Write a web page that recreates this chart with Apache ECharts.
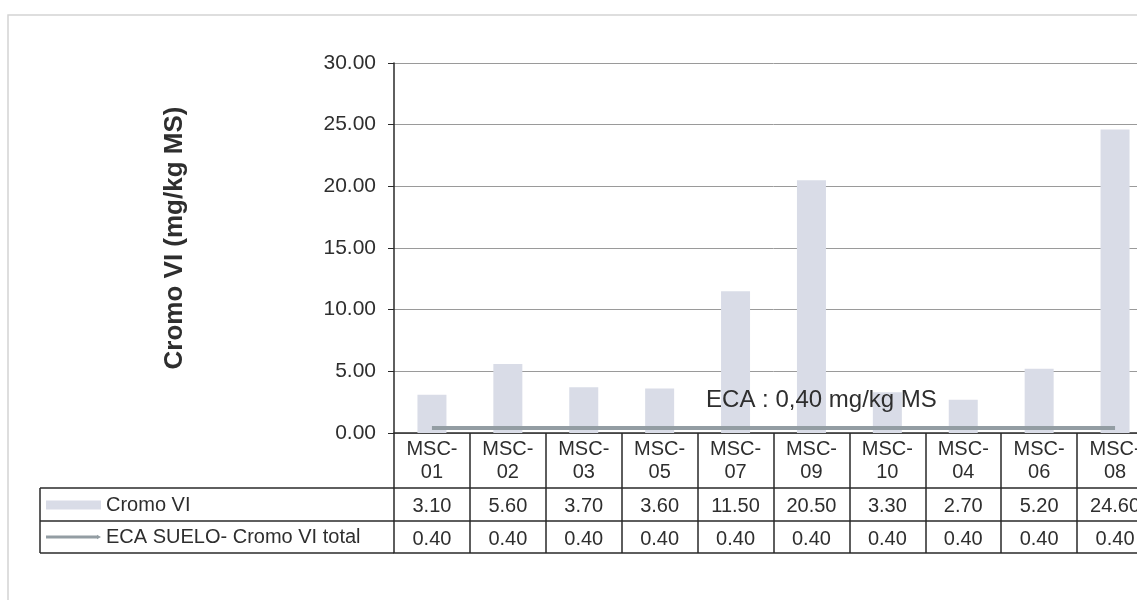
<!DOCTYPE html>
<html>
<head>
<meta charset="utf-8">
<script src="https://cdn.jsdelivr.net/npm/echarts@6/dist/echarts.min.js"></script>
<style>
  html, body { margin: 0; padding: 0; background: #fff; overflow: hidden; }
  /* the table runs past the right edge of the page, like the scan */
  #chart { width: 1170px; height: 611px; }
</style>
</head>
<body>
<div id="chart"></div>
<script>
// data
var categories = ['MSC-01', 'MSC-02', 'MSC-03', 'MSC-05', 'MSC-07', 'MSC-09', 'MSC-10', 'MSC-04', 'MSC-06', 'MSC-08'];
var cromoVI = [3.10, 5.60, 3.70, 3.60, 11.50, 20.50, 3.30, 2.70, 5.20, 24.60];
var ecaSuelo = [0.40, 0.40, 0.40, 0.40, 0.40, 0.40, 0.40, 0.40, 0.40, 0.40];
var yTicks = { min: 0, max: 30, interval: 5 };
var ecaLabelIndex = 5;

var FONT = '"Liberation Sans", Arial, sans-serif';
var TXT = '#2e2e2e';
var LINE = '#2a2a2a';
var ECA_COLOR = '#939da3';

// table geometry (grid + rows underneath)
var G = { left: 394, top: 63, width: 759, height: 370 };
var rowCat = 55, row1 = 33, row2 = 32;
var tableLeft = 40;

var chartDom = document.getElementById('chart');
var myChart = echarts.init(chartDom);

function tableAxis(offset, tickLen, formatter, margin) {
  return {
    type: 'category',
    data: categories,
    position: 'bottom',
    offset: offset,
    axisLine: { show: true, lineStyle: { color: LINE, width: 1.5 } },
    axisTick: { show: tickLen > 0, alignWithLabel: false, length: tickLen, lineStyle: { color: LINE, width: 1.5 } },
    axisLabel: {
      show: !!formatter,
      interval: 0,
      margin: margin || 0,
      formatter: formatter || '',
      fontFamily: FONT,
      fontSize: 20,
      color: TXT,
      lineHeight: 20
    },
    splitLine: { show: false }
  };
}

var bottom1 = G.top + G.height + rowCat;
var bottom2 = bottom1 + row1;
var bottom3 = bottom2 + row2;

var eca = ecaSuelo.map(function (v, i) {
  if (i !== ecaLabelIndex) return v;
  return {
    value: v,
    symbol: 'circle',
    symbolSize: 0,
    label: {
      show: true,
      position: 'top',
      distance: 16,
      offset: [10, 0],
      formatter: 'ECA : ' + v.toFixed(2).replace('.', ',') + ' mg/kg MS',
      fontFamily: FONT,
      fontSize: 24,
      color: TXT
    }
  };
});

var xCat = tableAxis(0, rowCat, function (v) { return v.replace('-', '-\n'); }, 5);
xCat.axisLabel.lineHeight = 23;

// thin bar across the middle of the 55x9 legend slot, small arrow tip at the end
var lineIcon = 'path://M0,0h0.01v0.01h-0.01z M0,3h52v3h-52z M51,2.2l4,2.3l-4,2.3z M54.99,8.99h0.01v0.01h-0.01z';

var options = {
  animation: false,
  backgroundColor: '#fff',
  textStyle: { fontFamily: FONT },
  grid: { left: G.left, top: G.top, width: G.width, height: G.height, containLabel: false },
  legend: {
    orient: 'vertical',
    left: 46,
    top: bottom1 + 6,
    padding: 0,
    itemGap: 10,
    itemWidth: 55,
    itemHeight: 9,
    symbolKeepAspect: false,
    textStyle: { fontFamily: FONT, fontSize: 20, color: TXT, lineHeight: 22 },
    data: [
      { name: 'Cromo VI', icon: 'rect' },
      {
        name: 'ECA SUELO- Cromo VI total',
        icon: lineIcon,
        itemStyle: { color: ECA_COLOR, borderWidth: 0 }
      }
    ]
  },
  xAxis: [
    xCat,
    tableAxis(rowCat, row1, function (v, i) { return cromoVI[i].toFixed(2); }, 8),
    tableAxis(rowCat + row1, row2, function (v, i) { return ecaSuelo[i].toFixed(2); }, 8),
    tableAxis(rowCat + row1 + row2, 0, null, 0)
  ],
  yAxis: {
    type: 'value',
    min: yTicks.min,
    max: yTicks.max,
    interval: yTicks.interval,
    name: 'Cromo VI (mg/kg MS)',
    nameLocation: 'middle',
    nameGap: 206,
    nameRotate: 90,
    nameTextStyle: { fontFamily: FONT, fontSize: 26, fontWeight: 'bold', color: TXT, padding: [0, 0, 0, 20] },
    axisLine: { show: true, lineStyle: { color: LINE, width: 1.5 } },
    axisTick: { show: true, length: 6, lineStyle: { color: LINE } },
    axisLabel: {
      margin: 18,
      fontFamily: FONT,
      fontSize: 21,
      color: TXT,
      formatter: function (v) { return v.toFixed(2); }
    },
    splitLine: { show: true, lineStyle: { color: '#9a9a9a', width: 1 } }
  },
  series: [
    {
      name: 'Cromo VI',
      type: 'bar',
      data: cromoVI,
      barWidth: 29,
      itemStyle: { color: '#d9dce7' },
      z: 2
    },
    {
      name: 'ECA SUELO- Cromo VI total',
      type: 'line',
      data: eca,
      symbol: 'none',
      showSymbol: true,
      lineStyle: { color: ECA_COLOR, width: 4 },
      itemStyle: { color: ECA_COLOR },
      z: 3
    }
  ],
  graphic: [
    // light frame of the scanned sheet
    { type: 'polyline', silent: true, shape: { points: [[8, 600], [8, 15], [1170, 15]] }, style: { stroke: '#d4d4d4', fill: null, lineWidth: 1.5 } },
    // left column of the data table
    { type: 'line', silent: true, shape: { x1: tableLeft, y1: bottom1, x2: G.left, y2: bottom1 }, style: { stroke: LINE, lineWidth: 1.5 } },
    { type: 'line', silent: true, shape: { x1: tableLeft, y1: bottom2, x2: G.left, y2: bottom2 }, style: { stroke: LINE, lineWidth: 1.5 } },
    { type: 'line', silent: true, shape: { x1: tableLeft, y1: bottom3, x2: G.left, y2: bottom3 }, style: { stroke: LINE, lineWidth: 1.5 } },
    { type: 'line', silent: true, shape: { x1: tableLeft, y1: bottom1, x2: tableLeft, y2: bottom3 }, style: { stroke: LINE, lineWidth: 1.5 } }
  ]
};

myChart.setOption(options);
</script>
</body>
</html>
